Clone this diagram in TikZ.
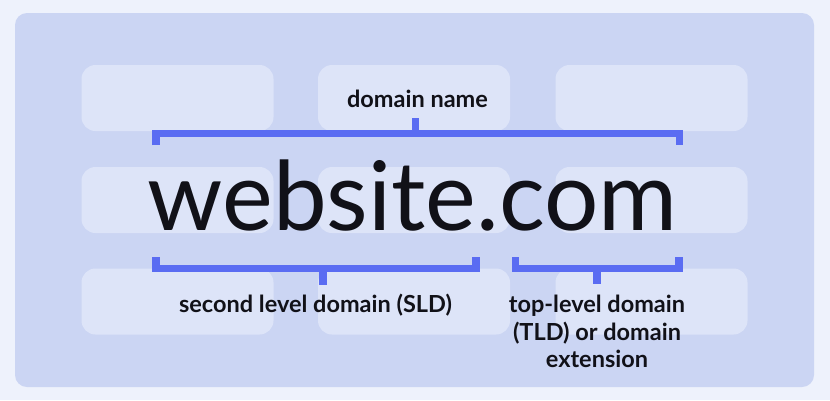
\documentclass[tikz,border=0pt]{standalone}
\usepackage{fontspec}
\setmainfont{Lato}
\usepackage{tikz}
\usetikzlibrary{positioning}
\usepackage{xcolor}
\definecolor{mbg}{HTML}{EEF2FC}
\definecolor{mpanel}{HTML}{CBD5F3}
\definecolor{mbox}{HTML}{DDE4F8}
\definecolor{mblue}{HTML}{5A6CF2}
\definecolor{mink}{HTML}{111118}
\tikzstyle{cell}=[rounded corners=14pt, fill=mbox, minimum width=192pt, minimum height=66pt, inner sep=0pt]
\tikzstyle{brace}=[line width=7.5pt, draw=mblue, line join=miter]
\tikzstyle{label}=[font=\fontsize{23.5}{27.5}\selectfont\bfseries, text=mink, inner sep=0pt]

\begin{document}
\begin{tikzpicture}[x=1pt, y=-1pt]
    \useasboundingbox (0,0) rectangle (830,400);
    \fill[mbg] (0,0) rectangle (830,400);
    \fill[mpanel, rounded corners=12pt] (15,13) rectangle (814,387);

    % background cells
    \node[cell] at (177.5,98) (c11) {};
    \node[cell] at (414,98) (c12) {};
    \node[cell] at (651.5,98) (c13) {};
    \node[cell] at (177.5,200) (c21) {};
    \node[cell] at (414,200) (c22) {};
    \node[cell] at (651.5,200) (c23) {};
    \node[cell] at (177.5,301.5) (c31) {};
    \node[cell] at (414,301.5) (c32) {};
    \node[cell] at (651.5,301.5) (c33) {};

    \node[anchor=base, inner sep=0pt, text=mink, font=\fontsize{96}{96}\selectfont] at (412.5,230) (site) {website.com};

    \node[label, anchor=base] at (417.5,107) (name) {domain name};
    \node[label, anchor=base] at (315.5,312) (sld) {second level domain (SLD)};
    \node[label, anchor=north, align=center] at (597,295) (tld) {top-level domain\\(TLD) or domain\\extension};

    % domain name bracket
    \coordinate (n1) at (156,145);
    \coordinate (n2) at (679.5,145);
    \coordinate (nm) at (415.5,133.5);
    \coordinate (nt) at (415.5,118);
    \draw[brace] (n1) -- (n1 |- nm) -- (n2 |- nm) -- (n2);
    \draw[brace] (nm) -- (nt);

    % second level bracket
    \coordinate (s1) at (156,257);
    \coordinate (s2) at (476,257);
    \coordinate (sm) at (323,268.5);
    \coordinate (st) at (323,285);
    \draw[brace] (s1) -- (s1 |- sm) -- (s2 |- sm) -- (s2);
    \draw[brace] (sm) -- (st);

    % top level bracket
    \coordinate (t1) at (515.5,257);
    \coordinate (t2) at (679,257);
    \coordinate (tm) at (597,268.5);
    \coordinate (tt) at (597,284);
    \draw[brace] (t1) -- (t1 |- tm) -- (t2 |- tm) -- (t2);
    \draw[brace] (tm) -- (tt);
\end{tikzpicture}
\end{document}
